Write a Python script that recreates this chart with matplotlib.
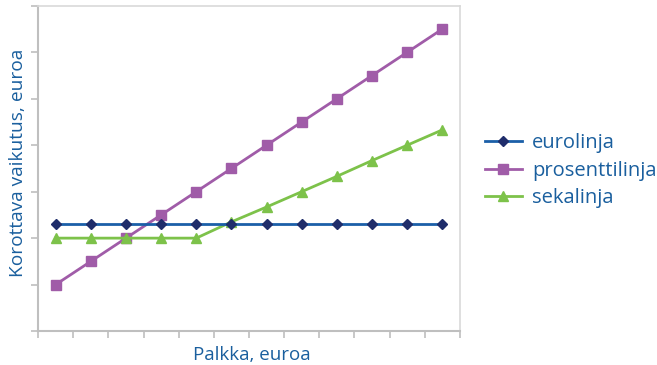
import matplotlib
matplotlib.use('Agg')

import numpy as np
import matplotlib.pyplot as plt

# salary steps (no labels shown on the axis)
steps = list(range(12))

eurolinja = [2.3, 2.3, 2.3, 2.3, 2.3, 2.3, 2.3, 2.3, 2.3, 2.3, 2.3, 2.3]
prosenttilinja = [1.0, 1.5, 2.0, 2.5, 3.0, 3.5, 4.0, 4.5, 5.0, 5.5, 6.0, 6.5]
sekalinja = [2.0, 2.0, 2.0, 2.0, 2.0, 2.35, 2.67, 3.0, 3.33, 3.67, 4.0, 4.33]

text_blue = '#1a5f9e'
axis_grey = '#bfbfbf'

plt.rcParams['font.family'] = ['Open Sans', 'DejaVu Sans']

fig = plt.figure(figsize=(6.57, 3.65), dpi=100)
ax = fig.add_axes([0.058, 0.093, 0.642, 0.891])

ax.plot(steps, eurolinja, color='#1b5fa8', lw=2, marker='D', ms=5,
        mfc='#1f2d6b', mec='#1f2d6b', label='eurolinja', zorder=3)
ax.plot(steps, prosenttilinja, color='#a05ca8', lw=2, marker='s', ms=7.5,
        mfc='#a05ca8', mec='#a05ca8', label='prosenttilinja', zorder=2)
ax.plot(steps, sekalinja, color='#7dc24a', lw=2, marker='^', ms=7,
        mfc='#7dc24a', mec='#7dc24a', label='sekalinja', zorder=2)

ax.set_xlim(-0.5, 11.5)
ax.set_ylim(0, 7)
ax.set_xticks(np.arange(-0.5, 12, 1))
ax.set_yticks(range(8))
ax.set_xticklabels([])
ax.set_yticklabels([])
ax.tick_params(axis='both', direction='out', length=5, width=1.2, color=axis_grey)

for side in ['left', 'bottom']:
    ax.spines[side].set_color(axis_grey)
    ax.spines[side].set_linewidth(1.5)
for side in ['top', 'right']:
    ax.spines[side].set_color('#d9d9d9')
    ax.spines[side].set_linewidth(1.2)

ax.set_xlabel('Palkka, euroa', color=text_blue, fontsize=13.5, va='center')
ax.xaxis.set_label_coords(0.507, -0.074)
ax.set_ylabel('Korottava vaikutus, euroa', color=text_blue, fontsize=13.8, va='center')
ax.yaxis.set_label_coords(-0.048, 0.517)

leg = ax.legend(loc='center left', bbox_to_anchor=(1.059, 0.493), frameon=False,
                fontsize=14.5, handlelength=1.85, labelspacing=0.36, handletextpad=0.5,
                borderpad=0, borderaxespad=0)
for t in leg.get_texts():
    t.set_color(text_blue)

fig.savefig('out.png', dpi=100)
